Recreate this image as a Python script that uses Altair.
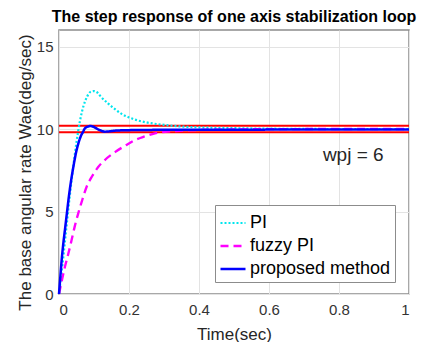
import altair as alt
import pandas as pd

# ---- data ----
pi_t = [0, 0.01, 0.02, 0.03, 0.04, 0.05, 0.06, 0.07, 0.08, 0.09, 0.1, 0.11, 0.12, 0.14, 0.16,
        0.18, 0.2, 0.22, 0.25, 0.28, 0.3, 0.35, 0.4, 0.5, 0.6, 0.8, 1.0]
pi_v = [0, 1.8, 3.8, 5.8, 7.6, 9.2, 10.5, 11.4, 11.95, 12.25, 12.3, 12.2, 11.95, 11.55, 11.2,
        10.9, 10.7, 10.55, 10.4, 10.3, 10.25, 10.15, 10.1, 10.05, 10.02, 10.0, 10.0]

fz_t = [0, 0.01, 0.017, 0.025, 0.036, 0.045, 0.055, 0.065, 0.079, 0.095, 0.112, 0.13, 0.16,
        0.19, 0.217, 0.245, 0.274, 0.31, 0.35, 0.4, 0.5, 0.6, 0.8, 1.0]
fz_v = [0, 1.0, 1.65, 2.3, 3.27, 4.1, 4.89, 5.6, 6.5, 7.15, 7.7, 8.1, 8.6,
        9.0, 9.33, 9.55, 9.74, 9.84, 9.9, 9.94, 9.97, 9.99, 10.0, 10.0]

pm_t = [0, 0.004, 0.0076, 0.012, 0.017, 0.022, 0.027, 0.034, 0.041, 0.048, 0.055, 0.062, 0.068,
        0.074, 0.082, 0.09, 0.1, 0.11, 0.12, 0.131, 0.145, 0.16, 0.2, 0.3, 1.0]
pm_v = [0, 1.1, 2.06, 3.0, 3.9, 4.8, 5.7, 6.8, 7.7, 8.5, 9.1, 9.55, 9.8,
        10.04, 10.14, 10.18, 10.12, 10.0, 9.9, 9.84, 9.86, 9.9, 9.93, 9.95, 9.97]

series_names = ["PI", "fuzzy PI", "proposed method"]
band_values = [10.2, 9.8]
note_text = ["wpj = 6"]
note_t = [0.754]
note_v = [8.42]

rows = []
for name, ts, vs in [("PI", pi_t, pi_v), ("fuzzy PI", fz_t, fz_v), ("proposed method", pm_t, pm_v)]:
    for t, v in zip(ts, vs):
        rows.append({"series": name, "t": t, "v": v})
df = pd.DataFrame(rows)
bands = pd.DataFrame({"v": band_values})
notes = pd.DataFrame({"t": note_t, "v": note_v, "txt": note_text})

FONT = "Liberation Sans"

xs = alt.Scale(domain=[0, 1], nice=False)
ys = alt.Scale(domain=[0, 16], nice=False)

red = alt.Chart(bands).mark_rule(color="#ff0000", strokeWidth=2).encode(
    y=alt.Y("v:Q", scale=ys),
    x=alt.value(0), x2=alt.value(350),
)

lines = alt.Chart(df).mark_line(strokeCap="butt", interpolate="monotone").encode(
    x=alt.X("t:Q", scale=xs,
            axis=alt.Axis(values=[0, 0.2, 0.4, 0.6, 0.8, 1], title="Time(sec)",
                          titleX=175, titleY=40, titleBaseline="middle",
                          format="~g")),
    y=alt.Y("v:Q", scale=ys,
            axis=alt.Axis(values=[0, 5, 10, 15], title="The base angular rate Wae(deg/sec)",
                          titleX=-34, titleY=142, titleBaseline="middle", titleAlign="center")),
    color=alt.Color("series:N",
                    scale=alt.Scale(domain=series_names, range=["#00e5ee", "#ff00ff", "#0000ff"]),
                    sort=series_names,
                    legend=alt.Legend(title=None, orient="none", legendX=156, legendY=175,
                                      symbolType="stroke", symbolSize=625, symbolStrokeWidth=2.5,
                                      labelFontSize=18, labelFont=FONT, labelColor="#000000",
                                      labelOffset=3, rowPadding=0, padding=4,
                                      strokeColor="#8c8c8c", fillColor="#ffffff")),
    strokeDash=alt.StrokeDash("series:N",
                              scale=alt.Scale(domain=series_names, range=[[2, 2], [8, 5], [1, 0]]),
                              sort=series_names, legend=None),
    strokeWidth=alt.StrokeWidth("series:N",
                                scale=alt.Scale(domain=series_names, range=[2.2, 2.5, 2.8]),
                                legend=None),
)

note = alt.Chart(notes).mark_text(align="left", baseline="middle", fontSize=19, font=FONT,
                                  color="#262626").encode(
    x=alt.X("t:Q", scale=xs), y=alt.Y("v:Q", scale=ys), text="txt:N")

chart = alt.layer(red, lines, note).properties(
    width=350, height=264,
    title=alt.TitleParams("The step response of one axis stabilization loop",
                          fontSize=16, font=FONT, fontWeight="bold", color="#000000",
                          anchor="middle", offset=5),
    autosize=alt.AutoSizeParams(type="none"),
    padding={"left": 51, "top": 22, "right": 15, "bottom": 48},
).configure_axis(
    labelFont=FONT, labelFontSize=15, labelColor="#333333",
    titleFont=FONT, titleFontSize=17, titleColor="#262626", titleFontWeight="normal",
    grid=True, gridColor="#e3e3e3", gridWidth=1,
    ticks=False, domain=False, labelPadding=8,
).configure_axisY(labelPadding=6).configure_view(
    stroke="#8c8c8c", strokeWidth=1.5
)

chart.save("out.html", embed_options={"renderer": "svg", "actions": False})
